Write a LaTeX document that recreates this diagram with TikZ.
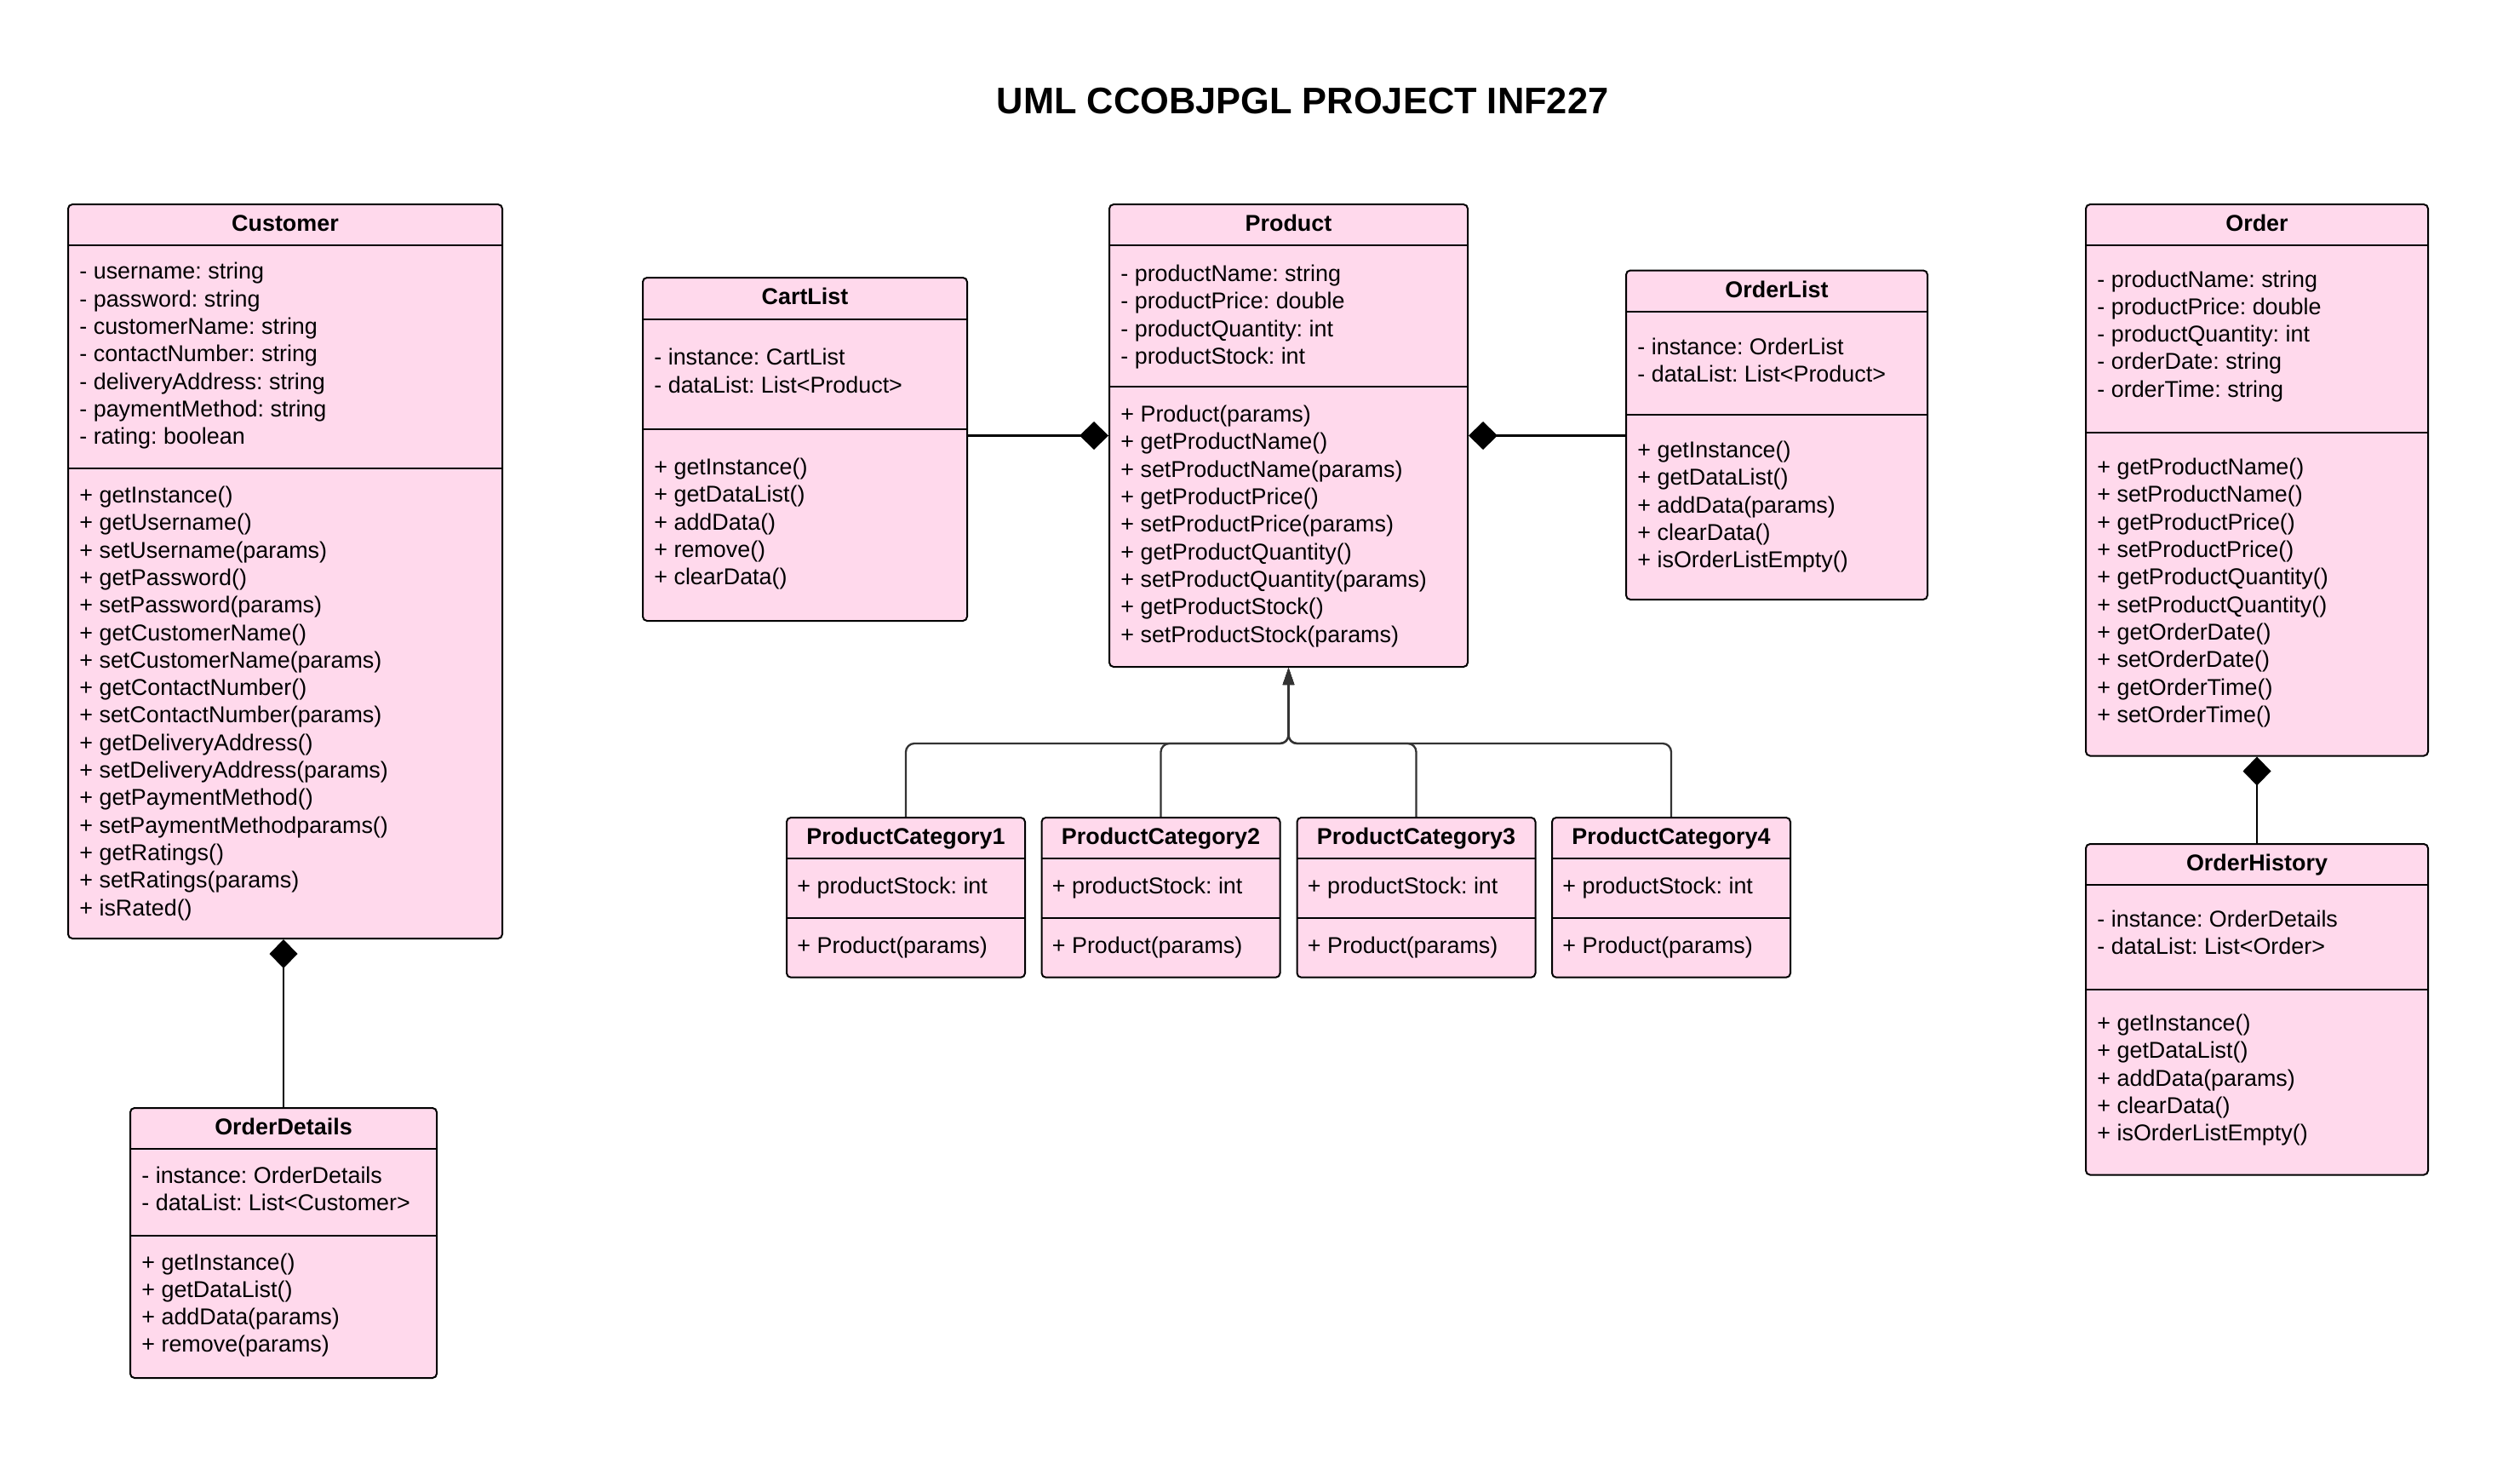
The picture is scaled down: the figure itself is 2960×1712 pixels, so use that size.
\documentclass[tikz,border=0pt]{standalone}
\usepackage{fontspec}
\setmainfont{Liberation Sans}
\usetikzlibrary{arrows.meta,calc}
\definecolor{umlpink}{RGB}{255,217,236}
\definecolor{inhgray}{RGB}{51,51,51}
\frenchspacing
\newcommand\umlbox[7]{%
  \pgfmathsetmacro\ubw{(#4-#2)*0.5}%
  \pgfmathsetmacro\ubh{(#5-#3)*0.5}%
  \node[classbox, minimum width=\ubw pt, minimum height=\ubh pt] (#1) at ({(#2+#4)/2},{(#3+#5)/2}) {};
  \draw[sepline] (#2,#6) -- (#4,#6);
  \draw[sepline] (#2,#7) -- (#4,#7);
}
\newcommand\umllines[4]{%
  \foreach \t [count=\i from 0] in {#4} {
    \node[txt, anchor=base west] (#1-\i) at (#2, {#3+\i*32.3}) {\t};
  }}
\begin{document}
\begin{tikzpicture}[x=0.5pt,y=-0.5pt,
  classbox/.style={draw=black, line width=1pt, fill=umlpink, rounded corners=2.5pt, inner sep=0pt, rectangle},
  sepline/.style={draw=black, line width=1pt},
  txt/.style={inner sep=0pt, font=\fontsize{13.45}{16.15}\selectfont},
  hdr/.style={inner sep=0pt, font=\fontsize{13.45}{16.15}\selectfont\bfseries, anchor=base},
  comp/.style={draw=black, line width=1.1pt},
  inh/.style={draw=inhgray, line width=1.15pt, rounded corners=5pt},
  diam/.style={{Diamond[length=17pt,width=16.5pt]}-},
  tri/.style={-{Triangle[length=10pt,width=6.5pt]}},
]
\fill[white] (0,0) rectangle (2960,1712);
\useasboundingbox (0,0) rectangle (2960,1712);

\node[inner sep=0pt, font=\fontsize{21.7}{26}\selectfont\bfseries, anchor=base] (title) at (1530,134) {UML CCOBJPGL PROJECT INF227};

% Customer
\umlbox{customer}{80}{240}{590}{1102}{288}{550}
\node[hdr] (customer-h) at (335,271) {Customer};
\umllines{customer-a}{93}{328}{- username: string,- password: string,- customerName: string,- contactNumber: string,- deliveryAddress: string,- paymentMethod: string,- rating: boolean}
\umllines{customer-m}{93}{590.5}{+ getInstance(),+ getUsername(),+ setUsername(params),+ getPassword(),+ setPassword(params),+ getCustomerName(),+ setCustomerName(params),+ getContactNumber(),+ setContactNumber(params),+ getDeliveryAddress(),+ setDeliveryAddress(params),+ getPaymentMethod(),+ setPaymentMethodparams(),+ getRatings(),+ setRatings(params),+ isRated()}

% OrderDetails
\umlbox{orderdetails}{153}{1301}{513}{1618}{1348.6}{1451}
\node[hdr] (orderdetails-h) at (333,1332) {OrderDetails};
\umllines{orderdetails-a}{166}{1389.6}{- instance: OrderDetails,- dataList: List<Customer>}
\umllines{orderdetails-m}{166}{1491}{+ getInstance(),+ getDataList(),+ addData(params),+ remove(params)}

% CartList
\umlbox{cartlist}{755}{326}{1136}{729}{375}{504}
\node[hdr] (cartlist-h) at (945.5,357.5) {CartList};
\umllines{cartlist-a}{768}{428.7}{- instance: CartList,- dataList: List<Product>}
\umllines{cartlist-m}{768}{557.5}{+ getInstance(),+ getDataList(),+ addData(),+ remove(),+ clearData()}

% Product
\umlbox{product}{1303}{240}{1724}{783}{288}{454}
\node[hdr] (product-h) at (1513.5,271) {Product};
\umllines{product-a}{1316}{330.5}{- productName: string,- productPrice: double,- productQuantity: int,- productStock: int}
\umllines{product-m}{1316}{495.6}{+ Product(params),+ getProductName(),+ setProductName(params),+ getProductPrice(),+ setProductPrice(params),+ getProductQuantity(),+ setProductQuantity(params),+ getProductStock(),+ setProductStock(params)}

% OrderList
\umlbox{orderlist}{1910}{317.5}{2264}{704}{366}{486.6}
\node[hdr] (orderlist-h) at (2087,349) {OrderList};
\umllines{orderlist-a}{1923}{416.5}{- instance: OrderList,- dataList: List<Product>}
\umllines{orderlist-m}{1923}{537.6}{+ getInstance(),+ getDataList(),+ addData(params),+ clearData(),+ isOrderListEmpty()}

% Order
\umlbox{order}{2450}{240}{2852}{887.5}{288}{508}
\node[hdr] (order-h) at (2651,271) {Order};
\umllines{order-a}{2463}{337}{- productName: string,- productPrice: double,- productQuantity: int,- orderDate: string,- orderTime: string}
\umllines{order-m}{2463}{557.6}{+ getProductName(),+ setProductName(),+ getProductPrice(),+ setProductPrice(),+ getProductQuantity(),+ setProductQuantity(),+ getOrderDate(),+ setOrderDate(),+ getOrderTime(),+ setOrderTime()}

% OrderHistory
\umlbox{orderhistory}{2450}{991}{2852}{1379.5}{1039}{1161.5}
\node[hdr] (orderhistory-h) at (2651,1022) {OrderHistory};
\umllines{orderhistory-a}{2463}{1088}{- instance: OrderDetails,- dataList: List<Order>}
\umllines{orderhistory-m}{2463}{1210.6}{+ getInstance(),+ getDataList(),+ addData(params),+ clearData(),+ isOrderListEmpty()}

% Product categories
\foreach \k/\xl in {1/924,2/1223.5,3/1523.5,4/1823} {
  \pgfmathsetmacro\xr{\xl+280}
  \pgfmathsetmacro\xc{\xl+140}
  \pgfmathsetmacro\xt{\xl+12}
  \umlbox{pc\k}{\xl}{960}{\xr}{1147.7}{1007.7}{1078}
  \node[hdr] (pc\k-h) at (\xc,991) {ProductCategory\k};
  \node[txt, anchor=base west] (pc\k-a) at (\xt,1049) {+ productStock: int};
  \node[txt, anchor=base west] (pc\k-m) at (\xt,1119) {+ Product(params)};
}

% Composition connectors
\draw[comp, diam] (product.west) -- (cartlist.east |- product.west);
\draw[comp, diam] (product.east) -- (orderlist.west |- product.east);
\draw[comp, diam] (orderdetails.north |- customer.south) -- (orderdetails.north);
\draw[comp, diam] (order.south) -- (orderhistory.north);

% Inheritance
\coordinate (bus) at ($(product.south)+(0,89)$);
\foreach \k in {1,2,3,4} {
  \draw[inh, tri] (pc\k.north) |- (bus) -- (product.south);
}
\end{tikzpicture}
\end{document}
